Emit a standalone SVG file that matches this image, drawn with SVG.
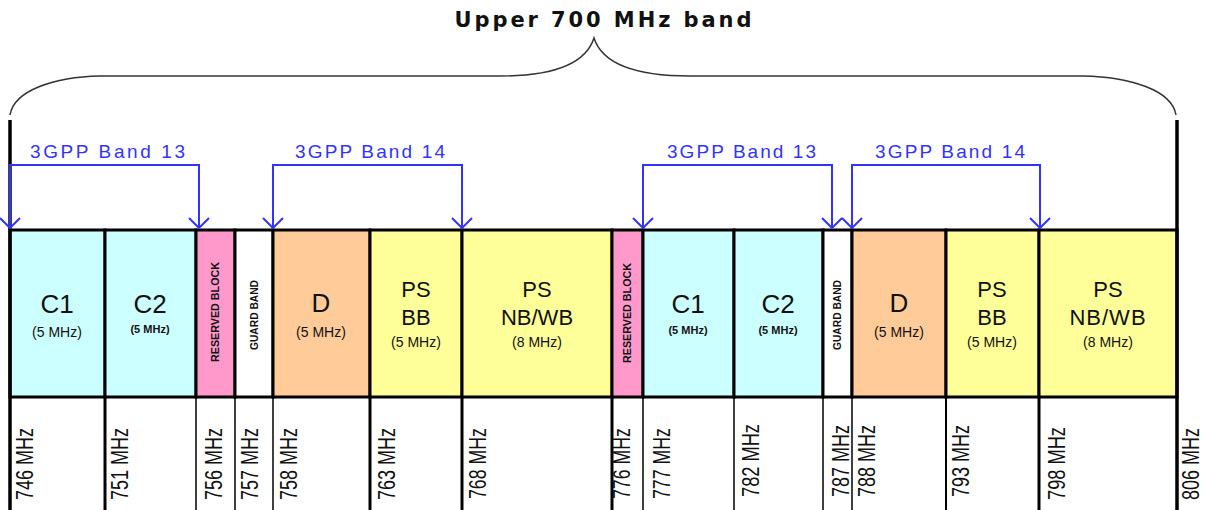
<svg xmlns="http://www.w3.org/2000/svg" width="1205" height="510" viewBox="0 0 1205 510">
<style>
.t{font-family:"Liberation Sans",Arial,sans-serif;fill:#111}
.big{font-size:26px}
.ps{font-size:22px}
.mhz{font-size:14px}
.sm{font-size:11px;font-weight:bold}
.rot{font-size:10px;font-weight:bold}
.freq{font-family:"Liberation Sans",Arial,sans-serif;font-size:24px;fill:#111}
.band{font-family:"Liberation Sans",Arial,sans-serif;font-size:19px;fill:#3333ff}
.blk{stroke:#000;stroke-width:3}
.div{stroke:#000}
.conn{fill:none;stroke:#3333ff;stroke-width:2}
</style>
<defs>
<marker id="arr" viewBox="0 0 12 22" refX="11" refY="11" markerWidth="12" markerHeight="22" markerUnits="userSpaceOnUse" orient="auto-start-reverse">
<path d="M1,1 L11,11 L1,21" fill="none" stroke="#3333ff" stroke-width="2"/>
</marker>
</defs>
<rect width="1205" height="510" fill="#fff"/>

<g id="title">
<text x="603" y="27" text-anchor="middle" style="font-family:'DejaVu Sans',sans-serif;font-size:21px;font-weight:bold;fill:#111" textLength="297" lengthAdjust="spacing">Upper 700 MHz band</text>
<path d="M10 115 C14 90 55 77 100 76 L500 76 C550 76 585 66 594 38 C603 66 640 76 690 76 L1083 76 C1130 77 1172 90 1176 115" fill="none" stroke="#333" stroke-width="1.5"/>
</g>

<g id="blocks">
<rect id="c1a" x="10" y="230" width="95" height="167" fill="#ccffff" class="blk"/>
<rect id="c2a" x="105" y="230" width="91" height="167" fill="#ccffff" class="blk"/>
<rect id="resa" x="196" y="230" width="39" height="167" fill="#ff99cc" class="blk"/>
<rect id="guarda" x="235" y="230" width="38" height="167" fill="#ffffff" class="blk"/>
<rect id="da" x="273" y="230" width="97" height="167" fill="#ffcc99" class="blk"/>
<rect id="psbba" x="370" y="230" width="92" height="167" fill="#ffff99" class="blk"/>
<rect id="psnba" x="462" y="230" width="150" height="167" fill="#ffff99" class="blk"/>
<rect id="resb" x="612" y="230" width="31" height="167" fill="#ff99cc" class="blk"/>
<rect id="c1b" x="643" y="230" width="91" height="167" fill="#ccffff" class="blk"/>
<rect id="c2b" x="734" y="230" width="89" height="167" fill="#ccffff" class="blk"/>
<rect id="guardb" x="823" y="230" width="29" height="167" fill="#ffffff" class="blk"/>
<rect id="db" x="852" y="230" width="94" height="167" fill="#ffcc99" class="blk"/>
<rect id="psbbb" x="946" y="230" width="93" height="167" fill="#ffff99" class="blk"/>
<rect id="psnbb" x="1039" y="230" width="138" height="167" fill="#ffff99" class="blk"/>
</g>

<g id="labels">
<text x="57" y="313" text-anchor="middle" class="t big">C1</text>
<text x="57" y="337" text-anchor="middle" class="t mhz">(5 MHz)</text>
<text x="150" y="313" text-anchor="middle" class="t big">C2</text>
<text x="150" y="333" text-anchor="middle" class="t sm">(5 MHz)</text>
<text transform="translate(219,312) rotate(-90)" text-anchor="middle" class="t rot" textLength="100" lengthAdjust="spacingAndGlyphs">RESERVED BLOCK</text>
<text transform="translate(258,315) rotate(-90)" text-anchor="middle" class="t rot" style="font-weight:900" textLength="70" lengthAdjust="spacingAndGlyphs">GUARD BAND</text>
<text x="321" y="312" text-anchor="middle" class="t big">D</text>
<text x="321" y="337" text-anchor="middle" class="t mhz">(5 MHz)</text>
<text x="416" y="297" text-anchor="middle" class="t ps">PS</text>
<text x="416" y="325" text-anchor="middle" class="t ps">BB</text>
<text x="416" y="347" text-anchor="middle" class="t mhz">(5 MHz)</text>
<text x="537" y="297" text-anchor="middle" class="t ps">PS</text>
<text x="537" y="325" text-anchor="middle" class="t ps">NB/WB</text>
<text x="537" y="347" text-anchor="middle" class="t mhz">(8 MHz)</text>
<text transform="translate(631,313) rotate(-90)" text-anchor="middle" class="t rot" textLength="100" lengthAdjust="spacingAndGlyphs">RESERVED BLOCK</text>
<text x="688" y="313" text-anchor="middle" class="t big">C1</text>
<text x="688" y="334" text-anchor="middle" class="t sm">(5 MHz)</text>
<text x="778" y="313" text-anchor="middle" class="t big">C2</text>
<text x="778" y="334" text-anchor="middle" class="t sm">(5 MHz)</text>
<text transform="translate(841,315) rotate(-90)" text-anchor="middle" class="t rot" style="font-weight:900" textLength="70" lengthAdjust="spacingAndGlyphs">GUARD BAND</text>
<text x="899" y="312" text-anchor="middle" class="t big">D</text>
<text x="899" y="337" text-anchor="middle" class="t mhz">(5 MHz)</text>
<text x="992" y="297" text-anchor="middle" class="t ps">PS</text>
<text x="992" y="325" text-anchor="middle" class="t ps">BB</text>
<text x="992" y="347" text-anchor="middle" class="t mhz">(5 MHz)</text>
<text x="1108" y="297" text-anchor="middle" class="t ps">PS</text>
<text x="1108" y="325" text-anchor="middle" class="t ps" style="letter-spacing:1px">NB/WB</text>
<text x="1108" y="347" text-anchor="middle" class="t mhz">(8 MHz)</text>
</g>

<g id="dividers">
<line x1="10" y1="120" x2="10" y2="510" class="div" stroke-width="3.5"/>
<line x1="1177" y1="120" x2="1177" y2="510" class="div" stroke-width="3.5"/>
<line x1="105" y1="397" x2="105" y2="510" class="div" stroke-width="3"/>
<line x1="196" y1="397" x2="196" y2="510" class="div" stroke-width="1.5"/>
<line x1="235" y1="397" x2="235" y2="510" class="div" stroke-width="1.5"/>
<line x1="273" y1="397" x2="273" y2="510" class="div" stroke-width="1.5"/>
<line x1="370" y1="397" x2="370" y2="510" class="div" stroke-width="3"/>
<line x1="462" y1="397" x2="462" y2="510" class="div" stroke-width="3"/>
<line x1="612" y1="397" x2="612" y2="510" class="div" stroke-width="3"/>
<line x1="643" y1="397" x2="643" y2="510" class="div" stroke-width="1.5"/>
<line x1="734" y1="397" x2="734" y2="510" class="div" stroke-width="1.5"/>
<line x1="823" y1="397" x2="823" y2="510" class="div" stroke-width="1.5"/>
<line x1="852" y1="397" x2="852" y2="510" class="div" stroke-width="1.5"/>
<line x1="946" y1="397" x2="946" y2="510" class="div" stroke-width="2"/>
<line x1="1039" y1="397" x2="1039" y2="510" class="div" stroke-width="3"/>
</g>

<g id="freqs">
<text transform="translate(33,500) rotate(-90)" class="freq" textLength="72" lengthAdjust="spacingAndGlyphs">746 MHz</text>
<text transform="translate(128,500) rotate(-90)" class="freq" textLength="72" lengthAdjust="spacingAndGlyphs">751 MHz</text>
<text transform="translate(222,500) rotate(-90)" class="freq" textLength="72" lengthAdjust="spacingAndGlyphs">756 MHz</text>
<text transform="translate(258,500) rotate(-90)" class="freq" textLength="72" lengthAdjust="spacingAndGlyphs">757 MHz</text>
<text transform="translate(297,500) rotate(-90)" class="freq" textLength="72" lengthAdjust="spacingAndGlyphs">758 MHz</text>
<text transform="translate(395,500) rotate(-90)" class="freq" textLength="72" lengthAdjust="spacingAndGlyphs">763 MHz</text>
<text transform="translate(486,499) rotate(-90)" class="freq" textLength="71" lengthAdjust="spacingAndGlyphs">768 MHz</text>
<text transform="translate(630,499) rotate(-90)" class="freq" textLength="71" lengthAdjust="spacingAndGlyphs">776 MHz</text>
<text transform="translate(670,499) rotate(-90)" class="freq" textLength="71" lengthAdjust="spacingAndGlyphs">777 MHz</text>
<text transform="translate(759,497) rotate(-90)" class="freq" textLength="73" lengthAdjust="spacingAndGlyphs">782 MHz</text>
<text transform="translate(849,497) rotate(-90)" class="freq" textLength="72" lengthAdjust="spacingAndGlyphs">787 MHz</text>
<text transform="translate(875,497) rotate(-90)" class="freq" textLength="72" lengthAdjust="spacingAndGlyphs">788 MHz</text>
<text transform="translate(969,497) rotate(-90)" class="freq" textLength="72" lengthAdjust="spacingAndGlyphs">793 MHz</text>
<text transform="translate(1065,500) rotate(-90)" class="freq" textLength="73" lengthAdjust="spacingAndGlyphs">798 MHz</text>
<text transform="translate(1199,500) rotate(-90)" class="freq" textLength="72" lengthAdjust="spacingAndGlyphs">806 MHz</text>
</g>

<g id="connectors">
<path d="M10 228 L10 165 L199 165 L199 228" class="conn" marker-start="url(#arr)" marker-end="url(#arr)"/>
<path d="M273 228 L273 165 L462 165 L462 228" class="conn" marker-start="url(#arr)" marker-end="url(#arr)"/>
<path d="M643 228 L643 165 L832 165 L832 228" class="conn" marker-start="url(#arr)" marker-end="url(#arr)"/>
<path d="M852 228 L852 165 L1040 165 L1040 228" class="conn" marker-start="url(#arr)" marker-end="url(#arr)"/>
</g>

<g id="band-labels">
<text x="30" y="158" class="band" textLength="155" lengthAdjust="spacing">3GPP Band 13</text>
<text x="295" y="158" class="band" textLength="150" lengthAdjust="spacing">3GPP Band 14</text>
<text x="667" y="158" class="band" textLength="149" lengthAdjust="spacing">3GPP Band 13</text>
<text x="875" y="158" class="band" textLength="150" lengthAdjust="spacing">3GPP Band 14</text>
</g>
</svg>
